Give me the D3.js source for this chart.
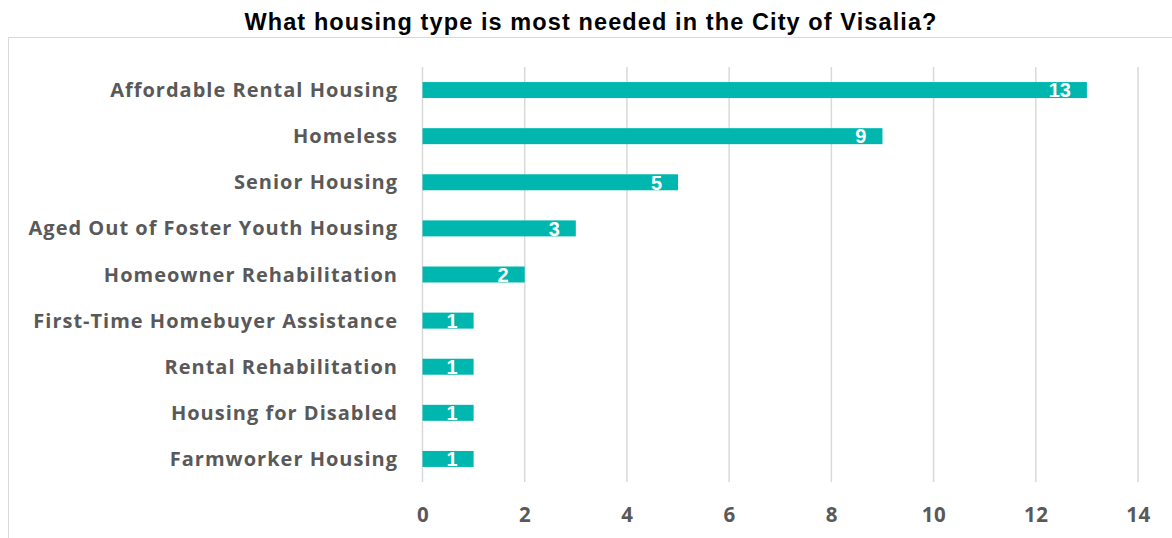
<!DOCTYPE html>
<html><head><meta charset="utf-8">
<script src="https://cdn.jsdelivr.net/npm/d3@7"></script>
<style>body{margin:0;background:#fff}svg{display:block}</style>
</head><body>
<svg id="c" width="1172" height="538"></svg>
<script>
const categories = ["Affordable Rental Housing","Homeless","Senior Housing","Aged Out of Foster Youth Housing","Homeowner Rehabilitation","First-Time Homebuyer Assistance","Rental Rehabilitation","Housing for Disabled","Farmworker Housing"];
const values = [13,9,5,3,2,1,1,1,1];
const xTicks = [0,2,4,6,8,10,12,14];
const title = "What housing type is most needed in the City of Visalia?";

const svg = d3.select("#c");
svg.append("rect").attr("x",8.5).attr("y",37.5).attr("width",1170).attr("height",510)
  .attr("fill","none").attr("stroke","#d9d9d9");
svg.append("text").attr("x",591).attr("y",29.5).attr("text-anchor","middle")
  .attr("font-family","Liberation Sans, Arial").attr("font-weight","bold").attr("font-size",23.5)
  .attr("letter-spacing",1.1).attr("fill","#000").text(title);

const x = d3.scaleLinear().domain([0,14]).range([422.5,1138]);
const y = d3.scaleBand().domain(categories).range([67,482]).paddingInner(0.653).paddingOuter(0.3265);

const g = svg.append("g");
g.selectAll("line.grid").data(xTicks).join("line").attr("class","grid")
  .attr("x1",d=>x(d)).attr("x2",d=>x(d)).attr("y1",67).attr("y2",482)
  .attr("stroke","#d9d9d9").attr("stroke-width",1.5);

g.selectAll("rect.bar").data(values).join("rect").attr("class","bar")
  .attr("x",x(0)).attr("y",(d,i)=>y(categories[i]))
  .attr("width",d=>x(d)-x(0)).attr("height",y.bandwidth()).attr("fill","#00b7b0");

g.selectAll("text.val").data(values).join("text").attr("class","val")
  .attr("x",d=>x(d)-16).attr("y",(d,i)=>y(categories[i])+y.bandwidth()/2+7.3)
  .attr("text-anchor","end").attr("font-family","Liberation Sans, Arial").attr("font-weight","bold")
  .attr("font-size",20).attr("fill","#fff").text(d=>d);

const yAxis = d3.axisLeft(y).tickSize(0).tickPadding(0);
const ya = svg.append("g").attr("transform","translate(398,0)").call(yAxis);
ya.select(".domain").remove();
ya.selectAll("text").attr("font-family","Open Sans").attr("font-weight","bold").attr("font-size",20)
  .attr("letter-spacing",1).attr("fill","#595959").attr("dy","0.35em");

const xAxis = d3.axisBottom(x).tickValues(xTicks).tickSize(0).tickPadding(0);
const xa = svg.append("g").attr("transform","translate(0,0)").call(xAxis);
xa.select(".domain").remove();
xa.selectAll("text").attr("y",522).attr("dy",null).attr("font-family","Open Sans").attr("font-weight","bold")
  .attr("font-size",20.5).attr("letter-spacing",0.5).attr("fill","#595959");
</script>
</body></html>
